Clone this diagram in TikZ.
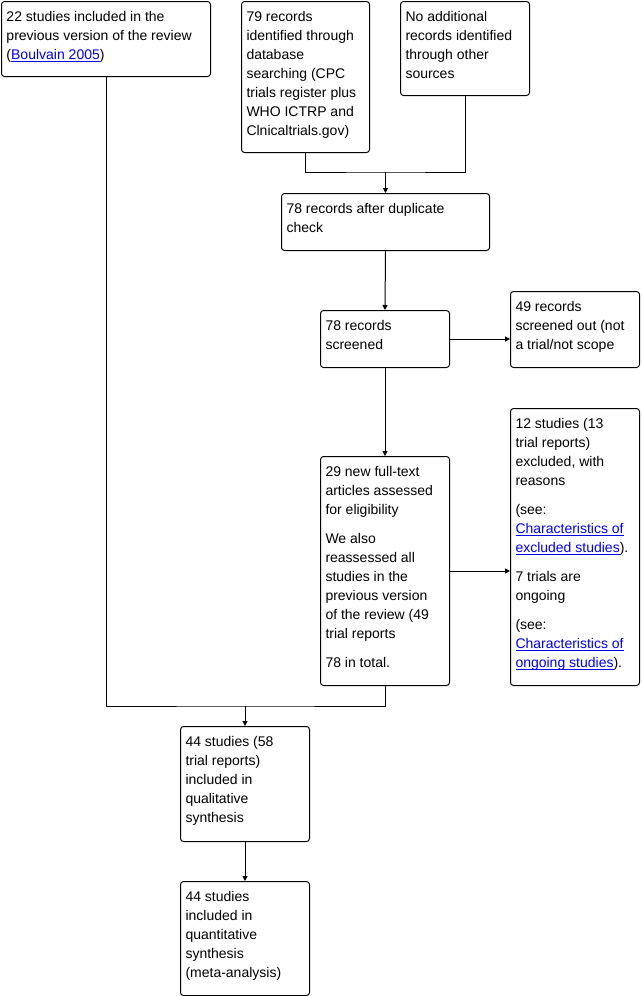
\documentclass[tikz,border=0pt]{standalone}
\usepackage{fontspec}
\setmainfont{Liberation Sans}
\usetikzlibrary{arrows.meta,calc}
\definecolor{linkblue}{RGB}{0,0,238}
\newlength\lnkw
\newcommand\lnk[1]{\settowidth\lnkw{#1}\textcolor{linkblue}{\rlap{\rule[-2.5pt]{\lnkw}{1pt}}#1}}
\newcommand\bx[3]{\vbox to #2{\hsize=#1\relax\vskip 6.7pt\hbox to #1{\hskip5pt\vtop{\hsize=\dimexpr#1-8pt\relax\parindent=0pt\raggedright\noindent\strut #3\strut}\hss}\vss}}
\begin{document}
\begin{tikzpicture}[x=1pt,y=-1pt,
  box/.style={draw,line width=1pt,rounded corners=3pt,inner sep=0pt,anchor=north west,font=\fontsize{14}{19}\selectfont},
  arr/.style={-{Triangle[length=5pt,width=5pt]}},
  ln/.style={line width=1pt}]
\useasboundingbox (0,0) rectangle (642,996);
\fill[white] (0,0) rectangle (642,996);
\node[box] (A) at (1,1) {\bx{209pt}{75pt}{22 studies included in the\\ previous version of the review\\ (\lnk{Boulvain 2005})}};
\node[box] (B) at (241,1) {\bx{128pt}{151pt}{79 records\\ identified through\\ database\\ searching (CPC\\ trials register plus\\ WHO ICTRP and\\ Clnicaltrials.gov)}};
\node[box] (C) at (400,1) {\bx{129pt}{94pt}{No additional\\ records identified\\ through other\\ sources}};
\node[box] (D) at (281,193) {\bx{208pt}{57pt}{78 records after duplicate\\ check}};
\node[box] (E) at (320,310) {\bx{129pt}{57pt}{78 records\\ screened}};
\node[box] (F) at (510,291) {\bx{129pt}{76pt}{49 records\\ screened out (not\\ a trial/not scope}};
\node[box] (G) at (320,456) {\bx{129pt}{229pt}{29 new full-text\\ articles assessed\\ for eligibility\\[10pt] We also\\ reassessed all\\ studies in the\\ previous version\\ of the review (49\\ trial reports\\[10pt] 78 in total.}};
\node[box] (H) at (510,408) {\bx{129pt}{277pt}{12 studies (13\\ trial reports)\\ excluded, with\\ reasons\\[10pt] (see:\\ \lnk{Characteristics of}\\ \lnk{excluded studies}).\\[10pt] 7 trials are\\ ongoing\\[10pt] (see:\\ \lnk{Characteristics of}\\ \lnk{ongoing studies}).}};
\node[box] (I) at (180,726) {\bx{129pt}{115pt}{44 studies (58\\ trial reports)\\ included in\\ qualitative\\ synthesis}};
\node[box] (J) at (180,881) {\bx{129pt}{114pt}{44 studies\\ included in\\ quantitative\\ synthesis\\ (meta-analysis)}};
\coordinate (j1) at (D.north |- 0,172);
\coordinate (j2) at (I.north |- 0,706);
\draw[ln] (B.south) |- (j1) -| (C.south);
\draw[ln,arr] (j1) -- (D.north);
\draw[ln,arr] (D.south) -- (E.north);
\draw[ln,arr] (E.east) -- (F.west |- E.east);
\draw[ln,arr] (E.south) -- (G.north);
\draw[ln,arr] (G.east) -- (H.west |- G.east);
\draw[ln] (A.south) |- (j2) -| (G.south);
\draw[ln,arr] (j2) -- (I.north);
\draw[ln,arr] (I.south) -- (J.north);
\end{tikzpicture}
\end{document}
